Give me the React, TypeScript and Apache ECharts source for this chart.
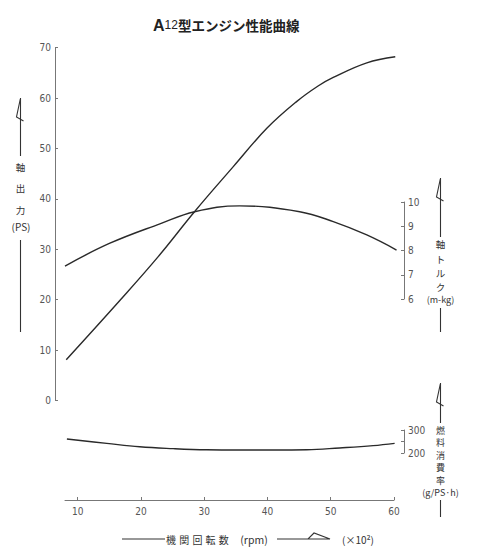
import { useEffect, useRef } from 'react'
import * as echarts from 'echarts'

// rpm values are in units of 100 rpm (x10^2)
const powerRpm = [8.2, 16.7, 22.7, 28.5, 34.6, 39.9, 44.6, 48.0, 50.4, 55.7, 60.2]
const powerPs = [8.1, 19.9, 28.5, 37.5, 46.4, 54.0, 59.3, 62.4, 64.1, 67.0, 68.2]

const torqueRpm = [8.0, 15.1, 23.0, 28.5, 35.6, 45.1, 50.4, 55.7, 60.4]
const torqueKgm = [7.36, 8.3, 9.1, 9.6, 9.84, 9.6, 9.19, 8.64, 8.02]

const fuelRpm = [8.3, 14.6, 19.8, 25.1, 30.4, 35.6, 40.9, 46.2, 51.4, 56.7, 60.1]
const fuelGps = [261, 242, 227, 219, 214, 213, 213, 214, 222, 232, 242]

const rpmTicks = [10, 20, 30, 40, 50, 60]

const title = 'A12型エンジン性能曲線'
const powerName = ['軸', '出', '力', '(PS)']
const torqueName = ['軸', 'ト', 'ル', 'ク', '(m-kg)']
const fuelName = ['燃', '料', '消', '費', '率', '(g/PS·h)']
const rpmName = ['機', '関', '回', '転', '数', '(rpm)']
const rpmUnit = '(×10²)'

const INK = '#2a2a2a'
const AXIS = '#777'
const LABEL = '#555'
const JP = '"Noto Sans CJK JP", "Noto Sans", sans-serif'
const NUM = '"Liberation Sans Narrow", "DejaVu Sans Condensed", "Liberation Sans", sans-serif'

const zip = (xs: number[], ys: number[]) => xs.map((x, i) => [x, ys[i]])

const txt = (text: string, x: number, y: number, size: number) => ({
  type: 'text',
  x,
  y,
  style: {
    text,
    fill: '#333',
    fontSize: size,
    lineHeight: size,
    fontFamily: JP,
    align: 'center',
    verticalAlign: 'middle',
  },
})

const vText = (chars: string[], x: number, ys: number[], size = 9.5) =>
  chars.map((c, i) => txt(c, x, ys[i], c.length > 1 ? 9 : size))

const pl = (pts: number[][]) => ({
  type: 'polyline',
  shape: { points: pts },
  style: { stroke: '#333', lineWidth: 1.1, fill: 'none' },
})

// vertical arrow: half arrowhead at top, shaft running down
const upArrow = (x: number, top: number, bottom: number) =>
  pl([[x + 3, top + 23], [x - 4, top + 19], [x, top], [x, bottom]])

export default function App() {
  const ref = useRef<HTMLDivElement>(null)

  useEffect(() => {
    if (!ref.current) return
    const chart = echarts.init(ref.current, null, { renderer: 'svg' })

    const hiddenX = (gridIndex: number) => ({
      gridIndex,
      type: 'value',
      min: 6.42,
      max: 61.58,
      show: false,
    })
    const yBase = {
      type: 'value',
      axisLine: { show: true, lineStyle: { color: AXIS, width: 1 } },
      axisTick: { show: true, inside: true, length: 3, lineStyle: { color: AXIS } },
      axisLabel: { color: LABEL, fontSize: 10, fontFamily: NUM, margin: 4 },
      splitLine: { show: false },
    }
    const curve = {
      type: 'line',
      smooth: 0.4,
      showSymbol: false,
      symbol: 'none',
      lineStyle: { color: INK, width: 1.4 },
      silent: true,
    }

    chart.setOption({
      animation: false,
      backgroundColor: '#fff',
      grid: [
        { left: 55, right: 76, top: 47.7, height: 352.8 },
        { left: 55, right: 76, top: 202, height: 97 },
        { left: 55, right: 76, top: 430, height: 23 },
        { left: 65, right: 86, top: 499, height: 1 },
      ],
      xAxis: [
        hiddenX(0),
        hiddenX(1),
        hiddenX(2),
        {
          gridIndex: 3,
          type: 'value',
          min: 8,
          max: 60,
          axisLine: { show: true, lineStyle: { color: AXIS, width: 1 } },
          axisTick: { show: true, inside: true, length: 3, customValues: rpmTicks, lineStyle: { color: AXIS } },
          axisLabel: { color: LABEL, fontSize: 10, fontFamily: NUM, margin: 6, customValues: rpmTicks },
          splitLine: { show: false },
        },
      ],
      yAxis: [
        { ...yBase, gridIndex: 0, position: 'left', min: 0, max: 70, interval: 10 },
        { ...yBase, gridIndex: 1, position: 'right', min: 6, max: 10, interval: 1 },
        {
          ...yBase,
          gridIndex: 2,
          position: 'right',
          min: 200,
          max: 300,
          interval: 50,
          axisLabel: { ...yBase.axisLabel, formatter: (v: number) => (v === 250 ? '' : String(v)) },
        },
        { gridIndex: 3, type: 'value', show: false },
      ],
      series: [
        { ...curve, name: 'power', xAxisIndex: 0, yAxisIndex: 0, data: zip(powerRpm, powerPs) },
        { ...curve, name: 'torque', xAxisIndex: 1, yAxisIndex: 1, data: zip(torqueRpm, torqueKgm), clip: false },
        { ...curve, name: 'fuel', xAxisIndex: 2, yAxisIndex: 2, data: zip(fuelRpm, fuelGps), clip: false },
      ],
      graphic: [
        {
          type: 'text',
          x: 153,
          y: 25,
          style: {
            text: `{a|${title.slice(0, 1)}}{b|${title.slice(1, 3)}}{c|${title.slice(3)}}`,
            verticalAlign: 'middle',
            rich: {
              a: { fontSize: 16, fontWeight: 'bold', fontFamily: 'Liberation Sans, sans-serif', fill: '#222' },
              b: { fontSize: 12, fontFamily: 'Liberation Sans, sans-serif', fill: '#222' },
              c: { fontSize: 13.5, fontWeight: 'bold', fontFamily: JP, fill: '#222' },
            },
          },
        },
        // left: shaft power
        upArrow(20.5, 98, 156),
        ...vText(powerName.slice(0, 3), 20.5, [167, 188, 210]),
        txt(powerName[3], 21, 226, 10),
        pl([[20.5, 240], [20.5, 332]]),
        // right: torque
        upArrow(440.5, 178, 237),
        ...vText(torqueName, 440.5, [244, 258.5, 273, 287, 299]),
        pl([[440.5, 308], [440.5, 332]]),
        // right: fuel consumption
        upArrow(440.5, 383, 423),
        ...vText(fuelName, 440.5, [430, 442.5, 455, 467.5, 480, 492], 9),
        pl([[440.5, 500], [440.5, 517]]),
        // bottom: engine speed
        pl([[122, 539], [165, 539]]),
        ...rpmName.map((c, i) =>
          txt(c, i < 5 ? 171 + i * 13.2 : 254, 539, i < 5 ? 10 : 10.5)
        ),
        pl([[277, 539], [308, 539], [314, 533], [330, 539], [308, 539]]),
        txt(rpmUnit, 358, 539, 10),
      ],
    })

    return () => chart.dispose()
  }, [])

  return <div ref={ref} style={{ position: 'absolute', left: 0, top: 0, width: 480, height: 555 }} />
}
